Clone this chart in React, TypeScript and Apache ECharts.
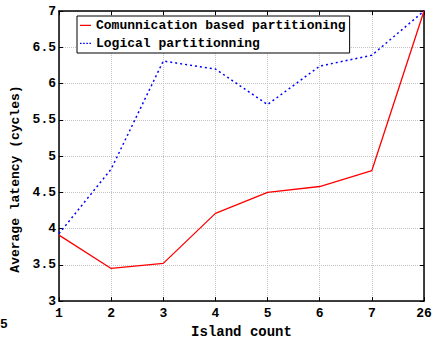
import React, { useEffect, useRef } from "react";
import * as echarts from "echarts";

const categories = ["1", "2", "3", "4", "5", "6", "7", "26"];
const commValues = [3.91, 3.45, 3.52, 4.21, 4.5, 4.58, 4.8, 7.0];
const logicalValues = [3.93, 4.82, 6.31, 6.2, 5.71, 6.24, 6.39, 7.0];
const seriesNames = ["Comunnication based partitioning", "Logical partitionning"];

const FONT = "'Liberation Mono', Cousine, 'Courier New', Courier, 'Nimbus Mono PS', FreeMono, monospace";

export default function App() {
  const ref = useRef<HTMLDivElement>(null);
  useEffect(() => {
    if (!ref.current) return;
    const chart = echarts.init(ref.current, null, { renderer: "svg" });
    const gridLine = { show: true, lineStyle: { color: "#c4c4c4", type: "dotted", width: 1 } };
    const axisLine = { show: true, lineStyle: { color: "#000", width: 1.5 } };
    chart.setOption({
      animation: false,
      backgroundColor: "#fff",
      textStyle: { fontFamily: FONT },
      grid: { left: 59, right: 16, top: 11, bottom: 38 },
      legend: {
        orient: "vertical",
        left: 77,
        top: 16,
        padding: [3, 4, 3, 3],
        itemGap: 5,
        itemWidth: 11,
        itemHeight: 14,
        backgroundColor: "#fff",
        borderColor: "#000",
        borderWidth: 1,
        borderRadius: 0,
        textStyle: { fontFamily: FONT, fontWeight: "bold", fontSize: 13, color: "#000" },
        data: [
          {
            name: seriesNames[0],
            icon: "path://M0,6h14v1.5h-14z M0,0h0.01v14h-0.01z",
            itemStyle: { color: "#ff0000" },
          },
          {
            name: seriesNames[1],
            icon: "path://M0,6h2v1.5h-2z M4,6h2v1.5h-2z M8,6h2v1.5h-2z M12,6h2v1.5h-2z M0,0h0.01v14h-0.01z",
            itemStyle: { color: "#0000ff" },
          },
        ],
      },
      xAxis: [
        {
          type: "category",
          data: categories,
          boundaryGap: false,
          name: "Island count",
          nameLocation: "middle",
          nameGap: 22,
          nameTextStyle: { fontFamily: FONT, fontWeight: "bold", fontSize: 14, color: "#000" },
          axisLine,
          axisTick: { show: true, inside: true, length: 4, lineStyle: { color: "#000" } },
          axisLabel: { fontFamily: FONT, fontWeight: "bold", fontSize: 13, color: "#000", margin: 6 },
          splitLine: gridLine,
        },
        {
          type: "category",
          data: categories,
          boundaryGap: false,
          position: "top",
          axisLine,
          axisTick: { show: true, inside: true, length: 4, lineStyle: { color: "#000" } },
          axisLabel: { show: false },
          splitLine: { show: false },
        },
      ],
      yAxis: [
        {
          type: "value",
          min: 3,
          max: 7,
          interval: 0.5,
          name: "Average latency (cycles)",
          nameLocation: "middle",
          nameGap: 35,
          nameTextStyle: { fontFamily: FONT, fontWeight: "bold", fontSize: 13, color: "#000", padding: [0, 0, 0, -46] },
          axisLine,
          axisTick: { show: true, inside: true, length: 4, lineStyle: { color: "#000" } },
          axisLabel: { fontFamily: FONT, fontWeight: "bold", fontSize: 13, color: "#000", margin: 3 },
          splitLine: gridLine,
        },
        {
          type: "value",
          min: 3,
          max: 7,
          interval: 0.5,
          position: "right",
          axisLine,
          axisTick: { show: true, inside: true, length: 4, lineStyle: { color: "#000" } },
          axisLabel: { show: false },
          splitLine: { show: false },
        },
      ],
      series: [
        {
          name: seriesNames[0],
          type: "line",
          data: commValues,
          showSymbol: false,
          symbol: "none",
          lineStyle: { color: "#ff0000", width: 1.3 },
          itemStyle: { color: "#ff0000" },
        },
        {
          name: seriesNames[1],
          type: "line",
          data: logicalValues,
          showSymbol: false,
          symbol: "none",
          lineStyle: { color: "#0000ff", width: 1.5, type: [2, 3] },
          itemStyle: { color: "#0000ff" },
        },
      ],
      graphic: [
        {
          type: "text",
          left: 0,
          top: 318,
          style: { text: "5", fontFamily: FONT, fontWeight: "bold", fontSize: 13, fill: "#000" },
        },
      ],
    });
    return () => chart.dispose();
  }, []);
  return <div ref={ref} style={{ width: 440, height: 344, position: "absolute", left: 0, top: 0 }} />;
}
